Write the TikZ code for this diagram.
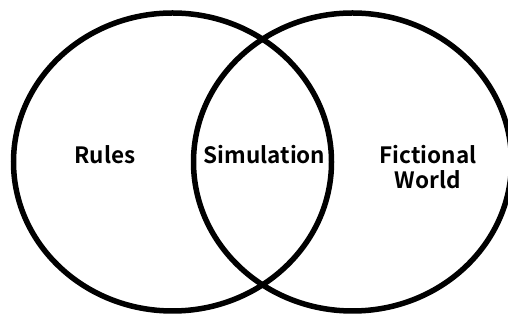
\documentclass[tikz,border=0pt]{standalone}
\usepackage{fontspec}
\setsansfont{Noto Sans CJK JP}[BoldFont={Noto Sans CJK JP Bold}]
\usepackage{tikz}

\begin{document}
\begin{tikzpicture}[x=1pt, y=1pt,
        setlabel/.style={font=\sffamily\bfseries\fontsize{22.5}{25}\selectfont, align=center}]
        \useasboundingbox (0,0) rectangle (508,320);
        % the two sets
        \draw[line width=5.5pt] (172.5,158) ellipse (159pt and 149pt);
        \draw[line width=5.5pt] (352.5,158) ellipse (159pt and 149pt);
        % labels
        \node[setlabel] (rules) at (105,165) {Rules};
        \node[setlabel] (simulation) at (264.5,165) {Simulation};
        \node[setlabel] (world) at (428,152.5) {Fictional\\World};
    \end{tikzpicture}
\end{document}
